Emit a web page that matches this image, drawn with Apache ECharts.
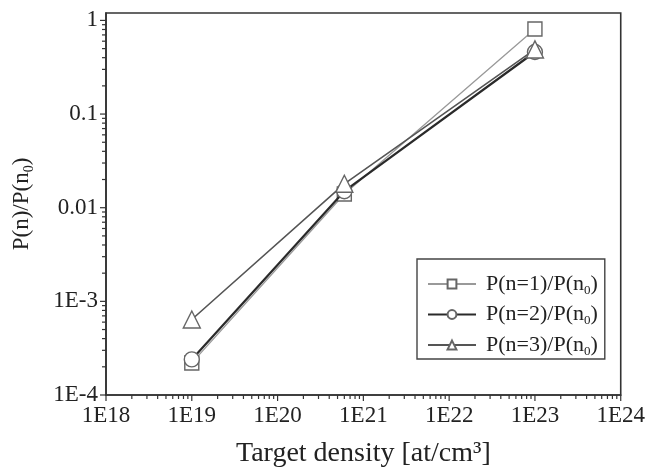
<!DOCTYPE html>
<html><head><meta charset="utf-8">
<script src="https://cdn.jsdelivr.net/npm/echarts@6/dist/echarts.min.js"></script>
<style>html,body{margin:0;padding:0;background:#fff}#c{width:648px;height:474px}</style>
</head><body><div id="c"></div>
<script>
// ---- data ----
const xValues = [1e19, 6e20, 1e23];
const n1Values = [2.2e-4, 0.014, 0.81];
const n2Values = [2.4e-4, 0.015, 0.46];
const n3Values = [6.4e-4, 0.018, 0.49];
const seriesNames = ['P(n=1)/P(n0)', 'P(n=2)/P(n0)', 'P(n=3)/P(n0)'];
const xTickLabels = ['1E18', '1E19', '1E20', '1E21', '1E22', '1E23', '1E24'];
const yTickLabels = ['1E-4', '1E-3', '0.01', '0.1', '1'];
const xAxisTitle = 'Target density [at/cm³]';
const yAxisTitle = 'P(n)/P(n0)';

// ---- styling ----
const FONT = 'Liberation Serif';
const X_MIN = 1e18, X_MAX = 1e24, Y_MIN = 1e-4, Y_MAX = 1.2;

function decadeLabel(value, labels, firstExp) {
  const lg = Math.log10(value);
  const e = Math.round(lg);
  if (Math.abs(lg - e) > 1e-6) return '';
  const s = labels[e - firstExp];
  return s === undefined ? '' : s;
}
function subRich(name, first) {
  return '{' + first + '|' + name.replace('n0)', 'n}{s|0}{a|)') + '}';
}

// tick positions (axis decoration)
const xTicks = [], yTicks = [];
for (let k = 18; k <= 24; k++) {
  xTicks.push([Math.pow(10, k), Y_MIN, 6]);
  if (k < 24) for (let m = 2; m <= 9; m++) xTicks.push([m * Math.pow(10, k), Y_MIN, 4]);
}
for (let k = -4; k <= 0; k++) {
  yTicks.push([X_MIN, Math.pow(10, k), 6]);
  if (k < 0) for (let m = 2; m <= 9; m++) yTicks.push([X_MIN, m * Math.pow(10, k), 4]);
}

const rich = {
  p: { fontFamily: FONT, fontSize: 22, color: '#222', lineHeight: 26, padding: [0, 0, 0, 5] },
  a: { fontFamily: FONT, fontSize: 22, color: '#222', lineHeight: 26 },
  s: { fontFamily: FONT, fontSize: 13, color: '#222', lineHeight: 26, verticalAlign: 'bottom' }
};
const richTitle = {
  a: { fontFamily: FONT, fontSize: 23, color: '#222', lineHeight: 28 },
  s: { fontFamily: FONT, fontSize: 14, color: '#222', lineHeight: 28, verticalAlign: 'bottom' }
};

const chart = echarts.init(document.getElementById('c'), null, { renderer: 'canvas' });
const mk = (name, vals, symbol, size, lineColor, lineWidth, z) => ({
  name, type: 'line', z,
  data: xValues.map((x, i) => [x, vals[i]]),
  symbol, symbolSize: size, showSymbol: true,
  itemStyle: { color: '#fff', borderColor: '#666', borderWidth: 1.4 },
  lineStyle: { color: lineColor, width: lineWidth },
  emphasis: { disabled: true }
});

chart.setOption({
  animation: false,
  backgroundColor: '#fff',
  grid: { left: 106, right: 27, top: 13, bottom: 79, show: true, borderColor: '#333', borderWidth: 1.6, backgroundColor: 'transparent' },
  xAxis: {
    type: 'log', logBase: 10, min: X_MIN, max: X_MAX, splitNumber: 6,
    axisLine: { show: true, lineStyle: { color: '#333', width: 1.6 } },
    axisTick: { show: false }, splitLine: { show: false },
    axisLabel: { fontFamily: FONT, fontSize: 23, color: '#222', margin: 9,
      formatter: v => decadeLabel(v, xTickLabels, 18) },
    name: xAxisTitle, nameLocation: 'middle', nameGap: 45,
    nameTextStyle: { fontFamily: FONT, fontSize: 28, color: '#222' }
  },
  yAxis: {
    type: 'log', logBase: 10, min: Y_MIN, max: Y_MAX,
    axisLine: { show: true, lineStyle: { color: '#333', width: 1.6 } },
    axisTick: { show: false }, splitLine: { show: false },
    axisLabel: { fontFamily: FONT, fontSize: 23, color: '#222', margin: 8, showMaxLabel: false,
      formatter: v => decadeLabel(v, yTickLabels, -4) },
    name: subRich(yAxisTitle, 'a'), nameLocation: 'middle', nameGap: 70, nameRotate: 90,
    nameTextStyle: { rich: richTitle }
  },
  legend: {
    orient: 'vertical', left: 417, top: 259,
    data: seriesNames,
    borderColor: '#444', borderWidth: 1.4, padding: [14, 7, 1, 10],
    itemWidth: 48, itemHeight: 11, itemGap: 6.5,
    formatter: name => subRich(name, 'p'),
    textStyle: { rich }
  },
  tooltip: { show: false },
  series: [
    mk(seriesNames[0], n1Values, 'rect', 14, '#999', 1.3, 2),
    mk(seriesNames[1], n2Values, 'circle', 15, '#2a2a2a', 2.2, 3),
    mk(seriesNames[2], n3Values, 'triangle', 17, '#555', 1.6, 4),
    {
      type: 'custom', coordinateSystem: 'cartesian2d', silent: true, clip: false, z: 6,
      data: xTicks,
      renderItem: (params, api) => {
        const p = api.coord([api.value(0), api.value(1)]);
        return { type: 'line', shape: { x1: p[0], y1: p[1], x2: p[0], y2: p[1] + api.value(2) },
          style: { stroke: '#333', lineWidth: 1.2 } };
      }
    },
    {
      type: 'custom', coordinateSystem: 'cartesian2d', silent: true, clip: false, z: 6,
      data: yTicks,
      renderItem: (params, api) => {
        const p = api.coord([api.value(0), api.value(1)]);
        return { type: 'line', shape: { x1: p[0], y1: p[1], x2: p[0] - api.value(2), y2: p[1] },
          style: { stroke: '#333', lineWidth: 1.2 } };
      }
    }
  ]
});
</script></body></html>
